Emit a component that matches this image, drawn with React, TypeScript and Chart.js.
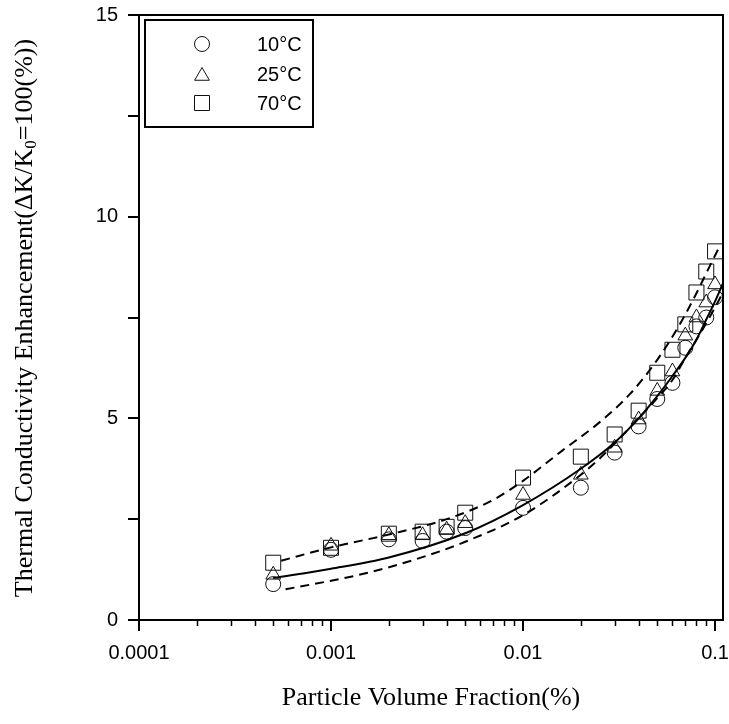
import React, { useEffect, useRef } from "react";
import { Chart, registerables } from "chart.js";

Chart.register(...registerables);

// ---- data ----
const volumeFraction = [0.0005, 0.001, 0.002, 0.003, 0.004, 0.005, 0.01, 0.02, 0.03, 0.04, 0.05, 0.06, 0.07, 0.08, 0.09, 0.1];
const enh10C = [0.89, 1.74, 2.0, 1.96, 2.19, 2.28, 2.78, 3.28, 4.15, 4.8, 5.48, 5.88, 6.75, 7.28, 7.5, 8.0];
const enh25C = [1.12, 1.84, 2.1, 2.1, 2.24, 2.4, 3.1, 3.6, 4.27, 4.97, 5.68, 6.16, 7.05, 7.5, 7.87, 8.32];
const enh70C = [1.42, 1.79, 2.14, 2.19, 2.31, 2.66, 3.53, 4.05, 4.6, 5.19, 6.13, 6.7, 7.33, 8.12, 8.64, 9.14];

const fitX = [0.0005, 0.001, 0.002, 0.005, 0.01, 0.02, 0.03, 0.04, 0.05, 0.06, 0.07, 0.08, 0.09, 0.1, 0.11];
const fitY = [1.04, 1.27, 1.55, 2.15, 2.85, 3.75, 4.4, 5.0, 5.55, 6.05, 6.5, 6.95, 7.45, 7.9, 8.35];

const upperX = [0.00055, 0.001, 0.002, 0.004, 0.007, 0.01, 0.016, 0.025, 0.036, 0.05, 0.065, 0.08, 0.09, 0.104];
const upperY = [1.47, 1.8, 2.12, 2.5, 2.98, 3.45, 4.2, 4.9, 5.6, 6.45, 7.3, 8.1, 8.6, 9.2];

const lowerX = [0.00058, 0.0014, 0.0027, 0.005, 0.01, 0.02, 0.025, 0.036, 0.05, 0.06, 0.07, 0.086, 0.1, 0.108];
const lowerY = [0.76, 1.12, 1.49, 1.94, 2.6, 3.6, 4.0, 4.77, 5.5, 5.95, 6.5, 7.2, 7.75, 8.05];

const xMajorTicks = [0.0001, 0.001, 0.01, 0.1];
const xMajorLabels = ["0.0001", "0.001", "0.01", "0.1"];
const xMinorTicks = [
  0.0002, 0.0003, 0.0004, 0.0005, 0.0006, 0.0007, 0.0008, 0.0009,
  0.002, 0.003, 0.004, 0.005, 0.006, 0.007, 0.008, 0.009,
  0.02, 0.03, 0.04, 0.05, 0.06, 0.07, 0.08, 0.09,
];
const yMajorTicks = [0, 5, 10, 15];
const yMajorLabels = ["0", "5", "10", "15"];
const yMinorTicks = [2.5, 7.5, 12.5];

const seriesLabels = ["10°C", "25°C", "70°C"];
const xTitle = "Particle Volume Fraction(%)";
const yTitleMain = "Thermal Conductivity Enhancement(ΔK/K";
const yTitleSub = "0";
const yTitleEnd = "=100(%))";

const INK = "#111";
const SANS = "'Liberation Sans', Arial, sans-serif";
const SERIF = "'Liberation Serif', 'Times New Roman', serif";

function drawMarker(c: CanvasRenderingContext2D, style: string, x: number, y: number) {
  c.beginPath();
  if (style === "circle") {
    c.arc(x, y, 7.5, 0, Math.PI * 2);
  } else if (style === "triangle") {
    const r = 8.5;
    for (let i = 0; i < 3; i++) {
      const ang = (i * 2 * Math.PI) / 3;
      const px = x + Math.sin(ang) * r;
      const py = y - Math.cos(ang) * r + 2;
      if (i === 0) c.moveTo(px, py);
      else c.lineTo(px, py);
    }
    c.closePath();
  } else {
    c.rect(x - 7.5, y - 7.5, 15, 15);
  }
  c.stroke();
}

export default function App() {
  const ref = useRef<HTMLCanvasElement>(null);

  useEffect(() => {
    const canvas = ref.current!;
    const pts = (xs: number[], ys: number[]) => xs.map((x, i) => ({ x, y: ys[i] }));
    const styles = ["circle", "triangle", "rect"];

    const decor = {
      id: "decor",
      afterDraw(chart: any) {
        const c: CanvasRenderingContext2D = chart.ctx;
        const a = chart.chartArea;
        const xs = chart.scales.x;
        const ys = chart.scales.y;
        c.save();
        c.strokeStyle = "#000";
        c.fillStyle = "#000";
        c.lineCap = "butt";

        // ticks
        c.lineWidth = 2;
        c.beginPath();
        for (const v of xMajorTicks) {
          const px = Math.round(xs.getPixelForValue(v));
          c.moveTo(px, a.bottom);
          c.lineTo(px, a.bottom + 11);
        }
        for (const v of yMajorTicks) {
          const py = Math.round(ys.getPixelForValue(v));
          c.moveTo(a.left, py);
          c.lineTo(a.left - 11, py);
        }
        for (const v of yMinorTicks) {
          const py = Math.round(ys.getPixelForValue(v));
          c.moveTo(a.left, py);
          c.lineTo(a.left - 11, py);
        }
        c.stroke();
        c.lineWidth = 1.5;
        c.beginPath();
        for (const v of xMinorTicks) {
          const px = Math.round(xs.getPixelForValue(v)) + 0.5;
          c.moveTo(px, a.bottom);
          c.lineTo(px, a.bottom + 6);
        }
        c.stroke();

        // tick labels
        c.font = `20px ${SANS}`;
        c.textBaseline = "middle";
        c.textAlign = "center";
        xMajorTicks.forEach((v, i) => {
          c.fillText(xMajorLabels[i], xs.getPixelForValue(v), a.bottom + 33);
        });
        c.textAlign = "right";
        yMajorTicks.forEach((v, i) => {
          c.fillText(yMajorLabels[i], a.left - 21, ys.getPixelForValue(v));
        });

        // frame
        c.lineWidth = 2;
        c.strokeRect(a.left, a.top, a.right - a.left, a.bottom - a.top);

        // legend
        c.lineWidth = 2;
        c.strokeRect(145, 20, 168, 107);
        c.lineWidth = 1;
        c.strokeStyle = INK;
        const rows = [44, 74, 103];
        c.font = `20px ${SANS}`;
        c.textBaseline = "middle";
        c.textAlign = "left";
        rows.forEach((ry, i) => {
          drawMarker(c, styles[i], 202, ry);
          c.fillText(seriesLabels[i], 257, ry + 1);
        });

        // x title
        c.font = `26px ${SERIF}`;
        c.textAlign = "center";
        c.textBaseline = "middle";
        c.fillText(xTitle, (a.left + a.right) / 2, 698);

        // y title with subscript
        c.translate(25, 318);
        c.rotate(-Math.PI / 2);
        const mainFont = `26px ${SERIF}`;
        const subFont = `17px ${SERIF}`;
        c.font = mainFont;
        const w1 = c.measureText(yTitleMain).width;
        const w3 = c.measureText(yTitleEnd).width;
        c.font = subFont;
        const w2 = c.measureText(yTitleSub).width;
        let sx = -(w1 + w2 + w3) / 2;
        c.textAlign = "left";
        c.font = mainFont;
        c.fillText(yTitleMain, sx, 0);
        sx += w1;
        c.font = subFont;
        c.fillText(yTitleSub, sx, 7);
        sx += w2;
        c.font = mainFont;
        c.fillText(yTitleEnd, sx, 0);
        c.restore();
      },
    };

    const pointDataset = (label: string, ys: number[], style: string, radius: number) => ({
      label,
      data: pts(volumeFraction, ys),
      showLine: false,
      pointStyle: style,
      pointRadius: radius,
      pointHoverRadius: radius,
      pointBorderWidth: 1,
      pointBorderColor: INK,
      pointBackgroundColor: "rgba(0,0,0,0)",
      borderColor: INK,
      backgroundColor: "rgba(0,0,0,0)",
    });

    const lineDataset = (label: string, xsArr: number[], ysArr: number[], dash: number[]) => ({
      label,
      data: pts(xsArr, ysArr),
      showLine: true,
      pointRadius: 0,
      borderColor: "#000",
      borderWidth: 2,
      borderDash: dash,
      cubicInterpolationMode: "monotone",
      fill: false,
    });

    const chart = new Chart(canvas, {
      type: "line",
      data: {
        datasets: [
          lineDataset("fit", fitX, fitY, []),
          lineDataset("upper", upperX, upperY, [9, 6]),
          lineDataset("lower", lowerX, lowerY, [9, 6]),
          pointDataset(seriesLabels[0], enh10C, "circle", 7.5),
          pointDataset(seriesLabels[1], enh25C, "triangle", 8.5),
          pointDataset(seriesLabels[2], enh70C, "rect", 10.6),
        ] as any,
      },
      options: {
        responsive: false,
        animation: false,
        events: [],
        layout: { autoPadding: false, padding: { top: 15, right: 6, left: 0, bottom: 0 } },
        plugins: { legend: { display: false }, tooltip: { enabled: false } },
        scales: {
          x: {
            type: "logarithmic",
            min: 0.0001,
            max: 0.11,
            grid: { display: false, drawTicks: false },
            border: { display: false },
            afterBuildTicks: (s: any) => {
              s.ticks = xMajorTicks.map((v) => ({ value: v }));
            },
            afterFit: (s: any) => {
              s.height = 104;
            },
            ticks: { display: false },
          },
          y: {
            type: "linear",
            min: 0,
            max: 15,
            grid: { display: false, drawTicks: false },
            border: { display: false },
            afterBuildTicks: (s: any) => {
              s.ticks = yMajorTicks.map((v) => ({ value: v }));
            },
            afterFit: (s: any) => {
              s.width = 139;
            },
            ticks: { display: false },
          },
        },
      } as any,
      plugins: [decor],
    });
    return () => chart.destroy();
  }, []);

  return (
    <div style={{ position: "fixed", left: 0, top: 0, width: 729, height: 724, background: "#fff" }}>
      <canvas ref={ref} width={729} height={724} style={{ display: "block" }} />
    </div>
  );
}
